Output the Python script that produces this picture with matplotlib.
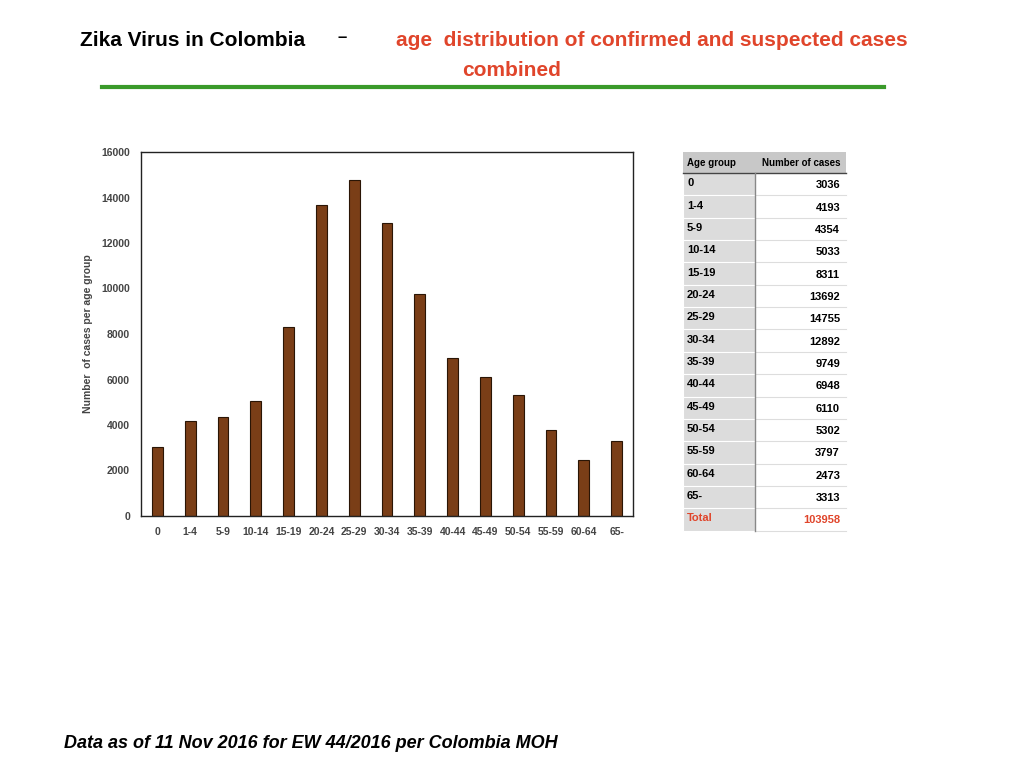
import matplotlib
matplotlib.use("Agg")
import matplotlib.pyplot as plt
from matplotlib.patches import Rectangle
from matplotlib.lines import Line2D

age_groups = ["0","1-4","5-9","10-14","15-19","20-24","25-29","30-34","35-39","40-44","45-49","50-54","55-59","60-64","65-"]
cases = [3036,4193,4354,5033,8311,13692,14755,12892,9749,6948,6110,5302,3797,2473,3313]
total = 103958
yticks = [0,2000,4000,6000,8000,10000,12000,14000,16000]

W, H = 1024, 768
fig = plt.figure(figsize=(W/100, H/100), dpi=100)
plt.rcParams['font.family'] = ['Liberation Sans', 'DejaVu Sans']

def fx(x): return x / W
def fy(y): return 1 - y / H

red = "#e0452b"
fig.text(fx(80), fy(40), "Zika Virus in Colombia", fontsize=15, weight="bold", ha="left", va="center")
fig.text(fx(338), fy(37), "–", fontsize=12, weight="bold", ha="left", va="center")
fig.text(fx(652), fy(40), "age  distribution of confirmed and suspected cases", fontsize=15, weight="bold", color=red, ha="center", va="center")
fig.text(fx(512), fy(70), "combined", fontsize=15, weight="bold", color=red, ha="center", va="center")
fig.add_artist(Line2D([fx(102), fx(884)], [fy(87), fy(87)], color="#3a9a2a", lw=3))

ax = fig.add_axes([fx(141), fy(516), fx(633-141), (516-152)/H])
x = range(len(age_groups))
ax.bar(x, cases, width=0.33, color="#7a3e17", edgecolor="#2a1505", linewidth=0.8)
ax.set_xlim(-0.5, len(age_groups)-0.5)
ax.set_ylim(0, 16000)
ax.set_yticks(yticks)
ax.set_yticklabels([str(v) for v in yticks], fontsize=7.5, weight="bold", color="#444")
ax.set_xticks(list(x))
ax.set_xticklabels(age_groups, fontsize=7.5, weight="bold", color="#444")
ax.tick_params(length=0, pad=8)
ax.set_ylabel("Number  of cases per age group", fontsize=7.5, weight="bold", color="#444", labelpad=6)
for s in ax.spines.values():
    s.set_color("#222"); s.set_linewidth(1)

# table
x0, x1, x2 = 683, 755, 846
top = 152
hh = 21
rh = 22.35
fig.add_artist(Rectangle((fx(x0), fy(top+hh)), fx(x2-x0), hh/H, facecolor="#c8c8c8", edgecolor="none"))
fig.text(fx(x0+4), fy(top+hh/2), "Age group", fontsize=7, weight="bold", ha="left", va="center")
fig.text(fx(x2-6), fy(top+hh/2), "Number of cases", fontsize=7, weight="bold", ha="right", va="center")
fig.add_artist(Line2D([fx(x0), fx(x2)], [fy(top+hh), fy(top+hh)], color="#444", lw=1))
rows = list(zip(age_groups, [str(c) for c in cases])) + [("Total", str(total))]
for i, (a, c) in enumerate(rows):
    yt = top + hh + i*rh
    fig.add_artist(Rectangle((fx(x0), fy(yt+rh)), fx(x1-x0), rh/H, facecolor="#dcdcdc", edgecolor="white", lw=0.8))
    fig.add_artist(Line2D([fx(x1), fx(x2)], [fy(yt+rh), fy(yt+rh)], color="#ddd", lw=0.8))
    col = red if a == "Total" else "black"
    fig.text(fx(x0+4), fy(yt+rh/2-1), a, fontsize=8, weight="bold", color=col, ha="left", va="center")
    fig.text(fx(x2-6), fy(yt+rh/2+1), c, fontsize=8, weight="bold", color=col, ha="right", va="center")
fig.add_artist(Line2D([fx(x1), fx(x1)], [fy(top+hh), fy(top+hh+16*rh)], color="#888", lw=1))

fig.text(fx(64), fy(744), "Data as of 11 Nov 2016 for EW 44/2016 per Colombia MOH", fontsize=13, weight="bold", style="italic", ha="left", va="center")

fig.savefig("out.png", dpi=100)
